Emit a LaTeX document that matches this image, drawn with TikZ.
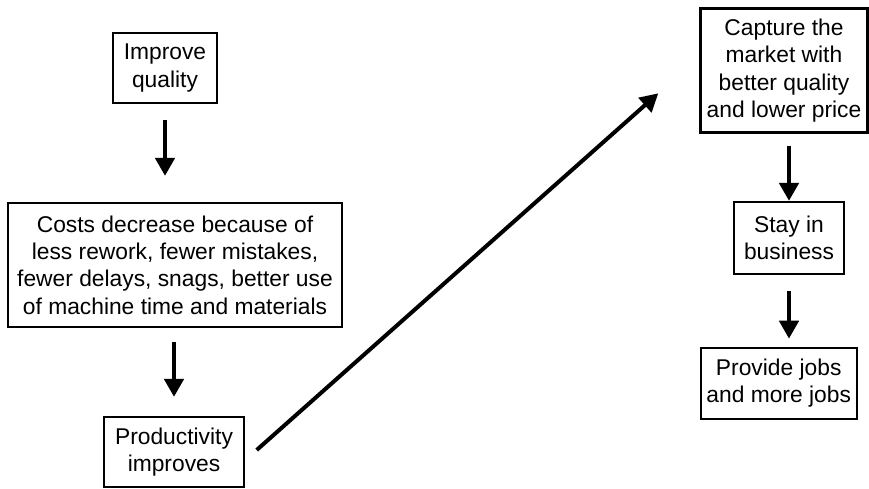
\documentclass[tikz,border=0pt]{standalone}
\usepackage{fontspec}
\setmainfont{Liberation Sans}
\usetikzlibrary{arrows.meta}
\begin{document}
\begin{tikzpicture}[x=1pt,y=-1pt,
  box/.style={draw, line width=2.2pt, inner sep=0pt, align=center,
    font=\fontsize{22.8}{27.4}\selectfont},
  flow/.style={line width=4.5pt, -{Triangle[width=19pt,length=18pt]}}]
  \useasboundingbox (0,0) rectangle (869,488);

  % left column
  \node[box, minimum width=104pt, minimum height=70pt] (q) at (165,68) {Improve\\quality};
  \node[box, minimum width=334pt, minimum height=124pt] (c) at (175,265)
    {Costs decrease because of\\less rework, fewer mistakes,\\fewer delays, snags, better use\\of machine time and materials};
  \node[box, minimum width=140pt, minimum height=70pt] (p) at (174,452) {Productivity\\improves};

  % right column
  \node[box, minimum width=167pt, minimum height=124pt] (m) at (784,70.5)
    {Capture the\\market with\\better quality\\and lower price};
  \node[box, minimum width=110pt, minimum height=72pt] (s) at (789,238) {Stay in\\business};
  \node[box, minimum width=156pt, minimum height=71pt] (j) at (778.7,383.3) {Provide jobs\\and more jobs};

  % free ends of the rising connector
  \coordinate (d0) at (256.7,450);
  \coordinate (d1) at (658.3,93.3);

  % connectors
  \draw[flow, shorten <=16pt, shorten >=26pt] (q.south) -- (q.south |- c.north);
  \draw[flow, shorten <=14pt, shorten >=19pt] (p.north |- c.south) -- (p.north);
  \draw[flow, line width=4pt] (d0) -- (d1);
  \draw[flow, shorten <=12pt] (s.north |- m.south) -- (s.north);
  \draw[flow, shorten <=16pt, shorten >=8pt] (s.south) -- (s.south |- j.north);
\end{tikzpicture}
\end{document}
